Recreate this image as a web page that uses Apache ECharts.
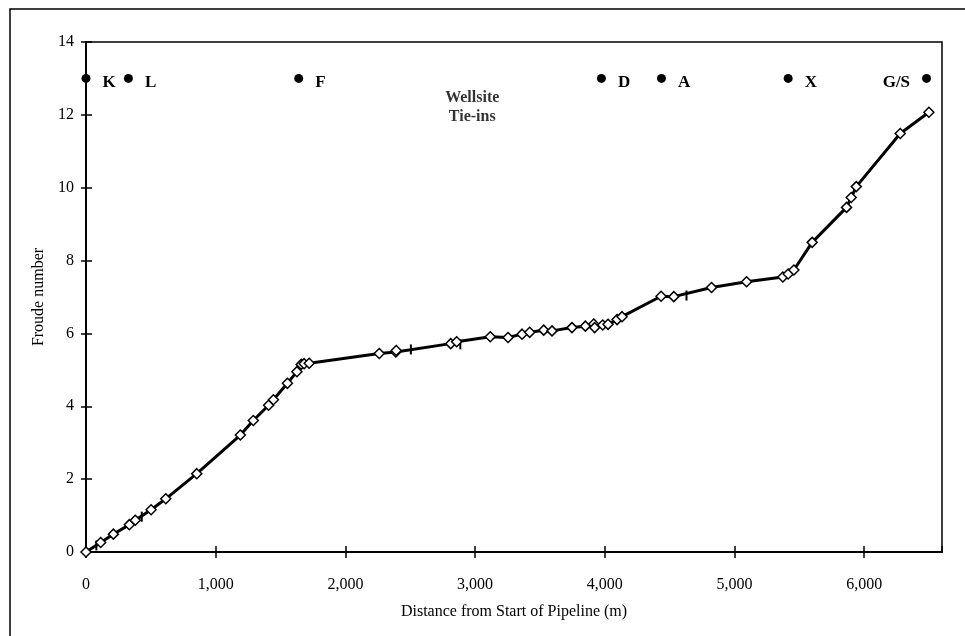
<!DOCTYPE html>
<html>
<head>
<meta charset="utf-8">
<script src="https://cdn.jsdelivr.net/npm/echarts@6/dist/echarts.min.js"></script>
<style>
  html, body { margin: 0; padding: 0; background: #fff; }
  #chart { width: 965px; height: 636px; }
</style>
</head>
<body>
<div id="chart"></div>
<script>
// Froude number along the pipeline (distance in m)
const distance = [0, 113, 211, 334, 380, 502, 615, 854, 1190, 1290, 1408, 1445, 1553, 1626, 1659, 1682, 1721,
  2261, 2389, 2392, 2812, 2858, 3117, 3254, 3362, 3421, 3529, 3593, 3747, 3850, 3915, 3922, 3984, 4025,
  4095, 4133, 4434, 4532, 4823, 5093, 5373, 5414, 5458, 5599, 5864, 5900, 5939, 6278, 6499];
const froude = [0.0, 0.26, 0.49, 0.75, 0.87, 1.16, 1.46, 2.15, 3.21, 3.61, 4.03, 4.18, 4.63, 4.95, 5.15, 5.17, 5.18,
  5.45, 5.49, 5.53, 5.72, 5.77, 5.91, 5.89, 5.98, 6.03, 6.09, 6.07, 6.16, 6.20, 6.26, 6.16, 6.23, 6.25,
  6.38, 6.46, 7.02, 7.01, 7.26, 7.42, 7.55, 7.63, 7.74, 8.50, 9.46, 9.73, 10.03, 11.49, 12.07];

// short vertical ticks sitting on the curve
const tickDistance = [80, 430, 2505, 2886, 4630];
const tickFroude = [0.18, 0.97, 5.56, 5.70, 7.04];

// wellsite tie-in locations, drawn along the top of the plot
const tieInNames = ['K', 'L', 'F', 'D', 'A', 'X', 'G/S'];
const tieInDistance = [0, 327, 1640, 3974, 4437, 5414, 6481];
const tieInLevel = 13;

const xTicks = { min: 0, max: 6600, interval: 1000 };
const yTicks = { min: 0, max: 14, interval: 2 };

const serif = '"Liberation Serif", "Times New Roman", serif';

const chart = echarts.init(document.getElementById('chart'), null, { renderer: 'canvas' });

const tickStyle = { color: '#000', width: 1.5 };

const mainAxisX = {
  type: 'value', min: xTicks.min, max: xTicks.max, interval: xTicks.interval,
  position: 'bottom',
  name: 'Distance from Start of Pipeline (m)', nameLocation: 'middle', nameGap: 52,
  nameTextStyle: { fontFamily: serif, fontSize: 16, color: '#000' },
  axisLine: { show: true, onZero: false, lineStyle: { color: '#000', width: 2 } },
  axisTick: { show: true, inside: false, length: 6, lineStyle: tickStyle },
  axisLabel: { fontFamily: serif, fontSize: 16, color: '#000', margin: 25, showMaxLabel: false,
    formatter: v => v.toLocaleString('en-US') },
  splitLine: { show: false }
};
const mainAxisY = {
  type: 'value', min: yTicks.min, max: yTicks.max, interval: yTicks.interval,
  position: 'left',
  name: 'Froude number', nameLocation: 'middle', nameGap: 37,
  nameTextStyle: { fontFamily: serif, fontSize: 16, color: '#000' },
  axisLine: { show: true, onZero: false, lineStyle: { color: '#000', width: 2 } },
  axisTick: { show: true, inside: false, length: 5, lineStyle: tickStyle },
  axisLabel: { fontFamily: serif, fontSize: 16, color: '#000', margin: 12 },
  splitLine: { show: false }
};
// companion axes: placed on the opposite side, then pulled onto the zero lines,
// so their outward ticks become the inner half of each crossing tick
const innerAxisX = {
  type: 'value', min: xTicks.min, max: xTicks.max, interval: xTicks.interval,
  position: 'top',
  axisLine: { show: false, onZero: true },
  axisTick: { show: true, inside: false, length: 6, lineStyle: tickStyle },
  axisLabel: { show: false }, splitLine: { show: false }
};
const innerAxisY = {
  type: 'value', min: yTicks.min, max: yTicks.max, interval: yTicks.interval,
  position: 'right',
  axisLine: { show: false, onZero: true },
  axisTick: { show: true, inside: false, length: 6, lineStyle: tickStyle },
  axisLabel: { show: false }, splitLine: { show: false }
};

chart.setOption({
  animation: false,
  backgroundColor: '#fff',
  grid: { left: 86, top: 42, right: 23, bottom: 84, show: true, borderColor: '#000', borderWidth: 1.5,
    backgroundColor: 'transparent' },
  graphic: [{
    type: 'rect', silent: true, z: -1,
    shape: { x: 10, y: 9, width: 1000, height: 700 },
    style: { fill: 'none', stroke: '#000', lineWidth: 1.5 }
  }],
  xAxis: [mainAxisX, innerAxisX],
  yAxis: [mainAxisY, innerAxisY],
  series: [
    {
      type: 'line', name: 'Froude',
      data: distance.map((d, i) => [d, froude[i]]),
      lineStyle: { color: '#000', width: 3 },
      symbol: 'diamond', symbolSize: 10, showAllSymbol: true,
      itemStyle: { color: '#fff', borderColor: '#000', borderWidth: 1.5, opacity: 1 },
      z: 3
    },
    {
      type: 'scatter', name: 'ticks',
      data: tickDistance.map((d, i) => [d, tickFroude[i]]),
      symbol: 'rect', symbolSize: [2, 10],
      itemStyle: { color: '#000', opacity: 1 },
      z: 2
    },
    {
      type: 'scatter', name: 'Tie-ins',
      data: tieInDistance.map((d, i) => ({
        value: [d, tieInLevel],
        name: tieInNames[i],
        label: { position: i === tieInNames.length - 1 ? 'left' : 'right' }
      })),
      symbol: 'circle', symbolSize: 9,
      itemStyle: { color: '#000', opacity: 1 },
      label: {
        show: true, formatter: p => p.name, distance: 12, offset: [0, 4],
        fontFamily: serif, fontSize: 17, fontWeight: 'bold', color: '#000'
      },
      z: 4
    },
    {
      type: 'scatter', name: 'caption',
      data: [{ value: [2978, 12.2], name: 'Wellsite\nTie-ins' }],
      symbolSize: 0,
      label: {
        show: true, position: 'inside', formatter: p => p.name,
        fontFamily: serif, fontSize: 16, fontWeight: 'bold', color: '#000', lineHeight: 19, align: 'center'
      }
    }
  ]
});
</script>
</body>
</html>
